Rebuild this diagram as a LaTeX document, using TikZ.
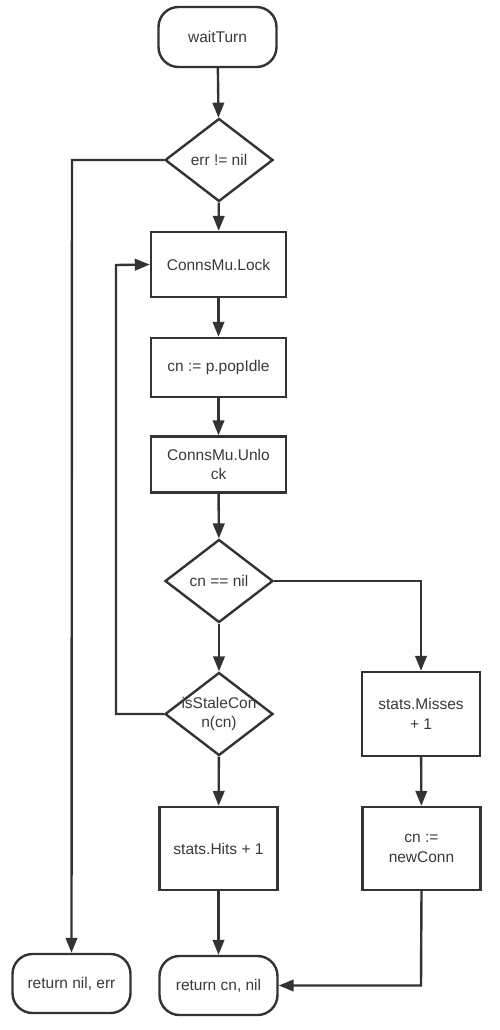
\documentclass[tikz,border=0pt]{standalone}
\usepackage{fontspec}
\setmainfont{Liberation Sans}
\usetikzlibrary{shapes.geometric,arrows.meta}
\definecolor{ln}{HTML}{333333}
\definecolor{tx}{HTML}{3A3A3A}
\begin{document}
\begin{tikzpicture}[x=1pt,y=-1pt,
  every node/.style={font=\fontsize{15.5}{19.5}\selectfont, text=tx},
  base/.style={draw=ln, line width=2.4pt, fill=white, inner sep=0pt, align=center},
  term/.style={base, rounded corners=20pt, minimum width=118pt, minimum height=60pt},
  procbox/.style={base, rectangle, minimum width=135pt},
  smallbox/.style={base, rectangle, minimum width=118pt, minimum height=83pt},
  decision/.style={base, diamond, minimum width=108pt, minimum height=83pt},
  conn/.style={draw=ln, line width=2.4pt, -{Triangle[length=15pt,width=11.5pt]}},
  plain/.style={draw=ln, line width=2.4pt}
]
\useasboundingbox (0,0) rectangle (500,1030);
\fill[white] (0,0) rectangle (500,1030);

\node[term] (wait) at (217.5,37) {waitTurn};
\node[decision, label=center:{err != nil}] (err) at (219,160) {};
\node[procbox, minimum height=65pt] (lock) at (218.5,264.5) {ConnsMu.Lock};
\node[procbox, minimum height=59pt] (pop) at (218.5,367.5) {cn := p.popIdle};
\node[procbox, minimum height=56pt] (unlock) at (218.5,464.5) {ConnsMu.Unlo\\ck};
\node[decision, label=center:{cn == nil}] (cnnil) at (219,581) {};
\node[decision, label=center:{\parbox{80pt}{\centering isStaleCon\\n(cn)}}] (stale) at (219,714) {};
\node[smallbox, minimum height=84pt] (miss) at (421,714) {stats.Misses\\+ 1};
\node[smallbox] (hits) at (218.5,848.5) {stats.Hits + 1};
\node[smallbox] (newc) at (421.5,848.5) {cn :=\\newConn};
\node[term, minimum height=59pt] (retnil) at (71.5,983.5) {return nil, err};
\node[term, minimum height=59pt] (retcn) at (218.5,985.5) {return cn, nil};

\coordinate (errL) at (72,160);
\coordinate (loopB) at (116,714);
\coordinate (loopT) at (116,265);
\coordinate (missT) at (421,581);
\coordinate (newB) at (421,985.5);

\draw[conn] (wait) -- (err);
\draw[conn] (err) -- (lock);
\draw[conn] (lock) -- (pop);
\draw[conn] (pop) -- (unlock);
\draw[conn] (unlock) -- (cnnil);
\draw[conn] (cnnil) -- (stale);
\draw[conn] (stale) -- (hits);
\draw[conn] (hits) -- (retcn);
\draw[conn] (cnnil.east) -- (missT) -- (miss.north);
\draw[conn] (miss) -- (newc);
\draw[conn] (newc.south) -- (newB) -- (retcn.east);
\draw[conn] (err.west) -- (errL) -- (retnil.north);
\draw[conn] (stale.west) -- (loopB) -- (loopT) -- (lock.west);
\end{tikzpicture}
\end{document}
